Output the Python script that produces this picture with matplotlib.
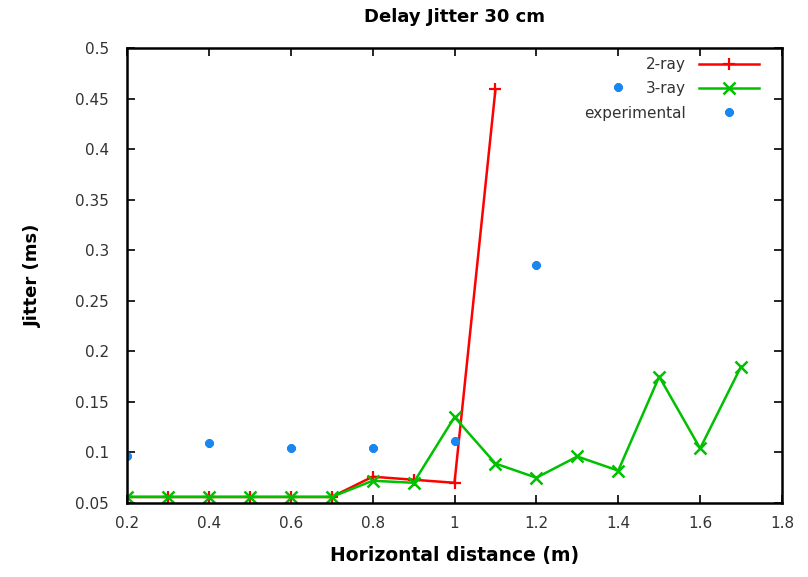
import matplotlib
matplotlib.use('Agg')
import matplotlib.pyplot as plt

# distances (m) and jitter values (ms)
x_two_ray = [0.2, 0.3, 0.4, 0.5, 0.6, 0.7, 0.8, 0.9, 1.0, 1.1]
jitter_two_ray = [0.056, 0.056, 0.056, 0.056, 0.056, 0.056, 0.076, 0.073, 0.070, 0.459]

x_three_ray = [0.2, 0.3, 0.4, 0.5, 0.6, 0.7, 0.8, 0.9, 1.0, 1.1, 1.2, 1.3, 1.4, 1.5, 1.6, 1.7]
jitter_three_ray = [0.056, 0.056, 0.056, 0.056, 0.056, 0.056, 0.072, 0.070, 0.135,
                    0.089, 0.075, 0.096, 0.082, 0.175, 0.104, 0.185]

x_exp = [0.2, 0.4, 0.6, 0.8, 1.0, 1.2, 1.4]
jitter_exp = [0.096, 0.109, 0.104, 0.104, 0.111, 0.285, 0.461]

x_ticks = [0.2, 0.4, 0.6, 0.8, 1.0, 1.2, 1.4, 1.6, 1.8]
x_ticklabels = ['0.2', '0.4', '0.6', '0.8', '1', '1.2', '1.4', '1.6', '1.8']
y_ticks = [0.05, 0.1, 0.15, 0.2, 0.25, 0.3, 0.35, 0.4, 0.45, 0.5]
y_ticklabels = ['0.05', '0.1', '0.15', '0.2', '0.25', '0.3', '0.35', '0.4', '0.45', '0.5']

plt.rcParams['font.family'] = 'DejaVu Sans'

fig = plt.figure(figsize=(8.08, 5.77), dpi=100)
ax = fig.add_axes([127 / 808, 1 - 503 / 577, (782 - 127) / 808, (503 - 48) / 577])

ax.plot(x_two_ray, jitter_two_ray, color='#ff0000', lw=1.8, marker='+', ms=9, mew=1.6,
        label='2-ray')
ax.plot(x_three_ray, jitter_three_ray, color='#00c000', lw=1.8, marker='x', ms=8, mew=1.8,
        label='3-ray')
ax.plot(x_exp, jitter_exp, ls='none', color='#1a86f0', marker=(8, 2, 0), ms=6, mew=2.2,
        label='experimental')

ax.set_xlim(0.2, 1.8)
ax.set_ylim(0.05, 0.5)
ax.set_xticks(x_ticks)
ax.set_xticklabels(x_ticklabels)
ax.set_yticks(y_ticks)
ax.set_yticklabels(y_ticklabels)
ax.tick_params(direction='in', top=True, right=True, length=6, width=1.2,
               labelsize=11, labelcolor='#333333')
ax.tick_params(axis='x', pad=9)
ax.tick_params(axis='y', pad=13)
for sp in ax.spines.values():
    sp.set_linewidth(1.8)

ax.set_xlabel('Horizontal distance (m)', fontsize=13.5, fontweight='bold', labelpad=11)
ax.set_ylabel('Jitter (ms)', fontsize=13, fontweight='bold', labelpad=24)
ax.set_title('Delay Jitter 30 cm', fontsize=13, fontweight='bold', pad=19)

leg = ax.legend(loc='upper right', frameon=False, markerfirst=False, fontsize=11,
                handlelength=3.9, handletextpad=0.9, borderaxespad=0.0,
                labelspacing=0.6, bbox_to_anchor=(0.974, 0.993))
for t in leg.get_texts():
    t.set_color('#333333')

fig.savefig('out.png', dpi=100)
